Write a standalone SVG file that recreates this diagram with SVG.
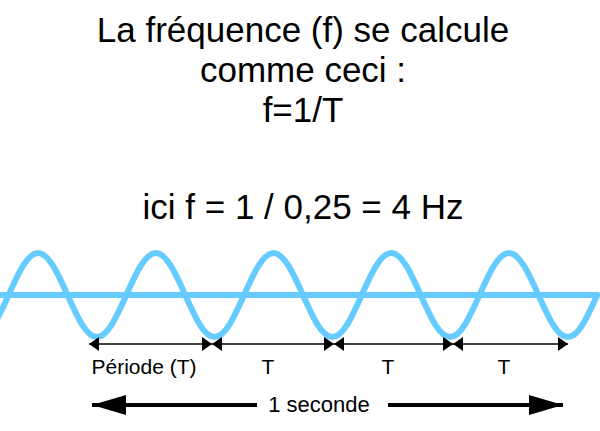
<svg xmlns="http://www.w3.org/2000/svg" width="600" height="431" viewBox="0 0 600 431">
<style>
.title{font-family:"Liberation Sans",Arial,sans-serif;font-size:35px;fill:#000;text-anchor:middle}
.lbl{font-family:"Liberation Sans",Arial,sans-serif;font-size:21px;fill:#000;text-anchor:middle}
.big{font-family:"Liberation Sans",Arial,sans-serif;font-size:22px;fill:#000;text-anchor:middle}
.wave{fill:none;stroke:#66CCFF;stroke-width:6;stroke-linecap:round}
.per{stroke:#000;stroke-width:1.4;fill:none;marker-start:url(#sa);marker-end:url(#sa)}
.sec{stroke:#000;stroke-width:4;fill:none}
</style>
<defs>
<marker id="sa" markerUnits="userSpaceOnUse" markerWidth="11" markerHeight="14" refX="10" refY="7" orient="auto-start-reverse" viewBox="0 0 11 14">
<path d="M0,0 L10,7 L0,14 Z" fill="#000"/>
</marker>
<marker id="ba" markerUnits="userSpaceOnUse" markerWidth="36" markerHeight="20" refX="34" refY="10" orient="auto-start-reverse" viewBox="0 0 36 20">
<path d="M0,0 L34,10 L0,20 Z" fill="#000"/>
</marker>
</defs>
<g id="title">
<text class="title" x="303" y="42">La fréquence (f) se calcule</text>
<text class="title" x="303" y="82">comme ceci :</text>
<text class="title" x="303" y="122">f=1/T</text>
<text class="title" x="303" y="219">ici f = 1 / 0,25 = 4 Hz</text>
</g>
<g id="signal">
<line class="wave" x1="0" y1="295" x2="597" y2="295"/>
<path class="wave" d="M-20.8,337 c10.66,0 19.83,-20.5 29.43,-42 c9.6,-21.5 18.77,-42 29.43,-42 c10.66,0 19.83,20.5 29.43,42 c9.6,21.5 18.77,42 29.43,42 c10.66,0 19.83,-20.5 29.43,-42 c9.6,-21.5 18.77,-42 29.43,-42 c10.66,0 19.83,20.5 29.43,42 c9.6,21.5 18.77,42 29.43,42 c10.66,0 19.83,-20.5 29.43,-42 c9.6,-21.5 18.77,-42 29.43,-42 c10.66,0 19.83,20.5 29.43,42 c9.6,21.5 18.77,42 29.43,42 c10.66,0 19.83,-20.5 29.43,-42 c9.6,-21.5 18.77,-42 29.43,-42 c10.66,0 19.83,20.5 29.43,42 c9.6,21.5 18.77,42 29.43,42 c10.66,0 19.83,-20.5 29.43,-42 c9.6,-21.5 18.77,-42 29.43,-42 c10.66,0 19.83,20.5 29.43,42 c9.6,21.5 18.77,42 29.43,42 c10.66,0 19.83,-20.5 29.43,-42"/>
</g>
<g id="connectors">
<line class="per" x1="89" y1="344" x2="212" y2="344"/>
<line class="per" x1="212" y1="344" x2="334" y2="344"/>
<line class="per" x1="334" y1="344" x2="453" y2="344"/>
<line class="per" x1="453" y1="344" x2="568" y2="344"/>
<line class="sec" x1="92" y1="405" x2="257" y2="405" style="marker-start:url(#ba)"/>
<line class="sec" x1="388" y1="405" x2="563" y2="405" style="marker-end:url(#ba)"/>
</g>
<g id="labels">
<text class="lbl" x="144" y="374">Période (T)</text>
<text class="lbl" x="268" y="374">T</text>
<text class="lbl" x="388" y="374">T</text>
<text class="lbl" x="504" y="374">T</text>
<text class="big" x="319" y="412">1 seconde</text>
</g>
</svg>
